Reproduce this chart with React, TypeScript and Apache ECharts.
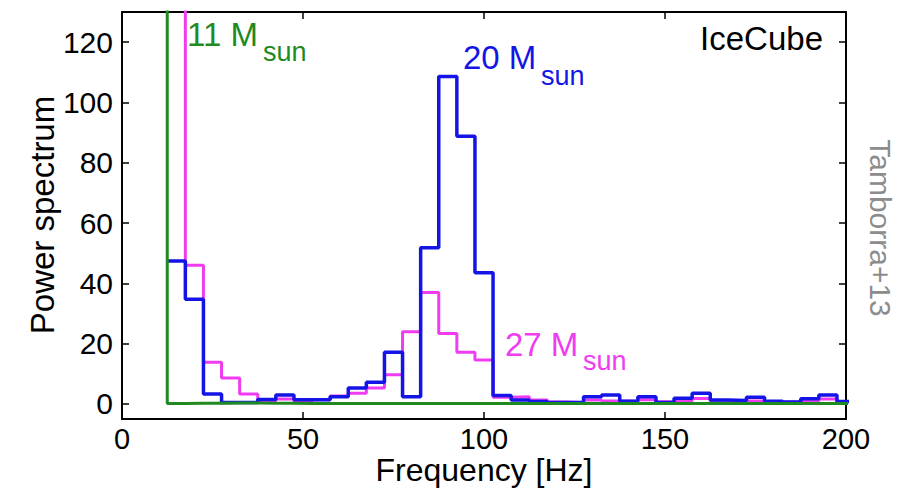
import React, { useEffect, useRef } from "react";
import * as echarts from "echarts";

// Frequency bins (Hz), 5 Hz wide, given by their centres
const binCenters = [
  10, 15, 20, 25, 30, 35, 40, 45, 50, 55, 60, 65, 70, 75, 80, 85, 90, 95, 100,
  105, 110, 115, 120, 125, 130, 135, 140, 145, 150, 155, 160, 165, 170, 175,
  180, 185, 190, 195, 200,
];
const binWidth = 5;

// 20 Msun (blue)
const power20 = [
  null, 47.4, 34.7, 3.3, 0.5, 0.5, 1.5, 3.0, 1.4, 1.4, 2.4, 5.3, 7.2, 17.1, 2.4,
  51.8, 108.6, 88.8, 43.5, 2.8, 1.3, 0.8, 0.5, 0.5, 2.4, 3.0, 0.9, 2.4, 0.5,
  1.9, 3.5, 1.3, 1.1, 2.2, 0.9, 0.6, 1.7, 3.0, 0.8,
];
// 27 Msun (magenta); first visible bin runs off the top of the plot
const power27 = [
  null, 400, 46.0, 13.8, 8.6, 3.3, 1.0, 1.6, 0.8, 1.4, 2.6, 3.5, 5.3, 9.7, 23.9,
  37.0, 23.4, 17.1, 14.6, 2.2, 2.4, 1.3, 0.6, 0.5, 1.3, 1.0, 0.9, 1.4, 0.7,
  1.0, 1.8, 1.0, 0.7, 1.0, 0.6, 0.6, 1.0, 1.6, 0.6,
];
// 11 Msun (green); first bin runs off the top of the plot
const power11 = [
  400, 0.1, 0.2, 0.2, 0.3, 0.3, 0.2, 0.2, 0.1, 0.1, 0.1, 0.1, 0.1, 0.1, 0.1,
  0.1, 0.1, 0.1, 0.1, 0.1, 0.1, 0.1, 0.1, 0.1, 0.1, 0.1, 0.1, 0.1, 0.1, 0.1,
  0.1, 0.1, 0.1, 0.1, 0.1, 0.1, 0.1, 0.1, 0.1,
];

const xTicks = [0, 50, 100, 150, 200];
const yTicks = [0, 20, 40, 60, 80, 100, 120];

const FONT = "'Liberation Sans', Arial, Helvetica, sans-serif";
const BLUE = "#1414e6";
const MAGENTA = "#f03cf0";
const GREEN = "#1f8a1f";

function toSteps(values: (number | null)[]) {
  const pts: [number, number][] = [];
  let lastIdx = -1;
  values.forEach((v, i) => {
    if (v === null) return;
    pts.push([binCenters[i] - binWidth / 2, v]);
    lastIdx = i;
  });
  if (lastIdx >= 0) {
    pts.push([binCenters[lastIdx] + binWidth / 2, values[lastIdx] as number]);
  }
  return pts;
}

export default function App() {
  const ref = useRef<HTMLDivElement>(null);

  useEffect(() => {
    if (!ref.current) return;
    const chart = echarts.init(ref.current, null, { renderer: "svg" });

    const axisLine = { show: true, onZero: false, lineStyle: { color: "#000", width: 2 } };
    const tick = { show: true, inside: true, length: 7, lineStyle: { color: "#000", width: 1.5 } };

    const text = (
      t: string,
      x: number,
      y: number,
      size: number,
      fill: string,
      align: string = "left",
      rotation = 0,
      lineHeight?: number
    ) => ({
      type: "text",
      x,
      y,
      rotation,
      silent: true,
      style: {
        text: t,
        fill,
        fontSize: size,
        fontFamily: FONT,
        align,
        verticalAlign: "middle",
        lineHeight: lineHeight ?? size,
      },
    });

    chart.setOption({
      animation: false,
      backgroundColor: "#fff",
      grid: { left: 122, right: 60, top: 12, bottom: 74, outerBoundsMode: "none" },
      xAxis: [
        {
          type: "value",
          min: 0,
          max: 200,
          interval: 50,
          position: "bottom",
          axisLine,
          axisTick: { ...tick, customValues: xTicks },
          axisLabel: {
            customValues: xTicks,
            color: "#000",
            fontSize: 29,
            lineHeight: 20,
            fontFamily: FONT,
            margin: 10,
          },
          splitLine: { show: false },
        },
        {
          type: "value",
          min: 0,
          max: 200,
          interval: 50,
          position: "top",
          axisLine,
          axisTick: { ...tick, customValues: xTicks },
          axisLabel: { show: false },
          splitLine: { show: false },
        },
      ],
      yAxis: [
        {
          type: "value",
          min: -5,
          max: 130,
          position: "left",
          axisLine,
          axisTick: { ...tick, customValues: yTicks },
          axisLabel: {
            customValues: yTicks,
            color: "#000",
            fontSize: 30,
            fontFamily: FONT,
            margin: 9,
          },
          splitLine: { show: false },
        },
        {
          type: "value",
          min: -5,
          max: 130,
          position: "right",
          axisLine,
          axisTick: { ...tick, customValues: yTicks },
          axisLabel: { show: false },
          splitLine: { show: false },
        },
      ],
      series: [
        {
          type: "line",
          name: "27 Msun",
          step: "end",
          data: toSteps(power27),
          showSymbol: false,
          clip: true,
          lineStyle: { color: MAGENTA, width: 3 },
          z: 2,
        },
        {
          type: "line",
          name: "20 Msun",
          step: "end",
          data: toSteps(power20),
          showSymbol: false,
          clip: true,
          lineStyle: { color: BLUE, width: 3.5 },
          z: 3,
        },
        {
          type: "line",
          name: "11 Msun",
          step: "end",
          data: toSteps(power11),
          showSymbol: false,
          clip: true,
          lineStyle: { color: GREEN, width: 3 },
          z: 4,
        },
      ],
      graphic: [
        text("11 M", 187, 34, 33, GREEN),
        text("sun", 263, 52, 27, GREEN),
        text("20 M", 463, 57, 33, BLUE),
        text("sun", 541, 76, 27, BLUE),
        text("27 M", 505, 344, 33, MAGENTA),
        text("sun", 583, 361, 27, MAGENTA),
        text("IceCube", 823, 38, 33, "#000", "right"),
        text("Frequency [Hz]", 484, 470, 32, "#000", "center", 0, 18),
        text("Power spectrum", 42, 215, 33, "#000", "center", Math.PI / 2),
        text("Tamborra+13", 880, 228, 30, "#8c8c8c", "center", -Math.PI / 2),
      ],
    });

    return () => chart.dispose();
  }, []);

  return (
    <div
      ref={ref}
      style={{ position: "fixed", left: 0, top: 0, width: 906, height: 493, background: "#fff" }}
    />
  );
}
